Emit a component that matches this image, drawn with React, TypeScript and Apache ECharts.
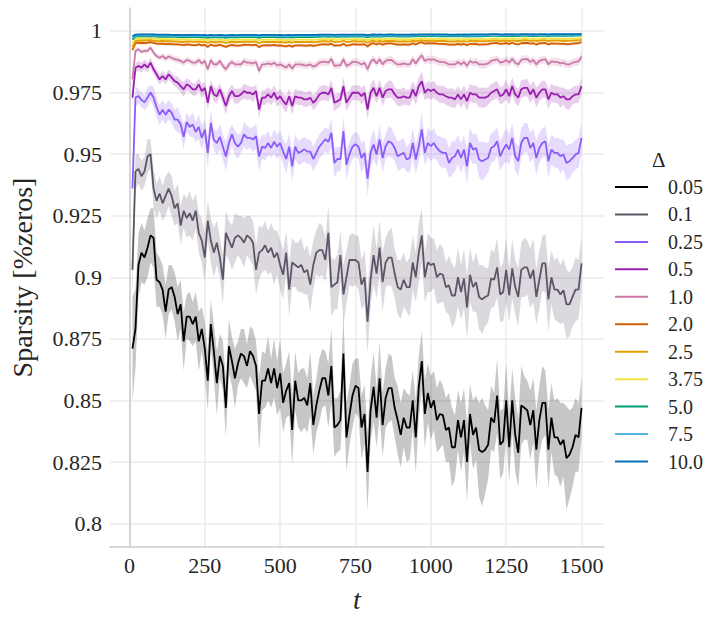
import React, { useEffect, useRef } from "react";
import * as echarts from "echarts";

// time steps t
const tValues = [
  10, 20, 30, 40, 50, 60, 70, 80, 90, 100, 110, 120, 130, 140, 150,
  160, 170, 180, 190, 200, 210, 220, 230, 240, 250, 260, 270, 280, 290, 300,
  310, 320, 330, 340, 350, 360, 370, 380, 390, 400, 410, 420, 430, 440, 450,
  460, 470, 480, 490, 500, 510, 520, 530, 540, 550, 560, 570, 580, 590, 600,
  610, 620, 630, 640, 650, 660, 670, 680, 690, 700, 710, 720, 730, 740, 750,
  760, 770, 780, 790, 800, 810, 820, 830, 840, 850, 860, 870, 880, 890, 900,
  910, 920, 930, 940, 950, 960, 970, 980, 990, 1000, 1010, 1020, 1030, 1040, 1050,
  1060, 1070, 1080, 1090, 1100, 1110, 1120, 1130, 1140, 1150, 1160, 1170, 1180, 1190, 1200,
  1210, 1220, 1230, 1240, 1250, 1260, 1270, 1280, 1290, 1300, 1310, 1320, 1330, 1340, 1350,
  1360, 1370, 1380, 1390, 1400, 1410, 1420, 1430, 1440, 1450, 1460, 1470, 1480, 1490, 1500,
];

const deltaLabels = ["0.05", "0.1", "0.25", "0.5", "1.0", "2.0", "2.5", "3.75", "5.0", "7.5", "10.0"];
const deltaColors = ["#000000", "#5e5468", "#8b5cf6", "#9a1fb0", "#cc79a7", "#d55e00", "#e69f00", "#f0e442", "#009e73", "#56b4e9", "#0072b2"];

const xTicks = [0, 250, 500, 750, 1000, 1250, 1500];
const xTickLabels = ["0", "250", "500", "750", "1000", "1250", "1500"];
const yTicks = [0.8, 0.825, 0.85, 0.875, 0.9, 0.925, 0.95, 0.975, 1.0];
const yTickLabels = ["0.8", "0.825", "0.85", "0.875", "0.9", "0.925", "0.95", "0.975", "1"];

// Δ = 0.05
const mean005 = [
  0.871, 0.879, 0.905, 0.910, 0.908, 0.912, 0.917, 0.916, 0.899, 0.898,
  0.895, 0.886, 0.895, 0.896, 0.892, 0.885, 0.889, 0.874, 0.884, 0.884,
  0.881, 0.884, 0.874, 0.879, 0.871, 0.858, 0.881, 0.870, 0.857, 0.868,
  0.864, 0.847, 0.872, 0.866, 0.859, 0.865, 0.869, 0.868, 0.864, 0.870,
  0.868, 0.864, 0.8445, 0.858, 0.858, 0.863, 0.857, 0.863, 0.855, 0.861,
  0.849, 0.854, 0.857, 0.838, 0.858, 0.850, 0.850, 0.851, 0.848, 0.857,
  0.840, 0.848, 0.854, 0.859, 0.859, 0.852, 0.864, 0.839, 0.840, 0.842,
  0.869, 0.835, 0.844, 0.852, 0.856, 0.855, 0.839, 0.8445, 0.821, 0.846,
  0.8555, 0.843, 0.859, 0.840, 0.851, 0.855, 0.855, 0.847, 0.842, 0.836,
  0.843, 0.839, 0.839, 0.850, 0.835, 0.8555, 0.866, 0.8445, 0.853, 0.847,
  0.850, 0.842, 0.8445, 0.844, 0.838, 0.839, 0.831, 0.831, 0.842, 0.835,
  0.842, 0.825, 0.8445, 0.836, 0.839, 0.830, 0.829, 0.830, 0.832, 0.843,
  0.841, 0.852, 0.832, 0.8335, 0.850, 0.831, 0.850, 0.836, 0.8287, 0.848,
  0.847, 0.846, 0.840, 0.846, 0.830, 0.842, 0.849, 0.849, 0.830, 0.843,
  0.835, 0.835, 0.832, 0.834, 0.8266, 0.828, 0.831, 0.836, 0.835, 0.847,
];
const hw005 = [
  0.021, 0.016, 0.013, 0.012, 0.011, 0.012, 0.011, 0.012, 0.011, 0.010,
  0.010, 0.011, 0.010, 0.009, 0.010, 0.011, 0.010, 0.012, 0.009, 0.010,
  0.009, 0.010, 0.012, 0.009, 0.011, 0.012, 0.010, 0.011, 0.013, 0.009,
  0.010, 0.012, 0.011, 0.010, 0.012, 0.009, 0.010, 0.011, 0.009, 0.010,
  0.011, 0.010, 0.015, 0.012, 0.011, 0.013, 0.010, 0.012, 0.011, 0.014,
  0.012, 0.011, 0.013, 0.014, 0.012, 0.011, 0.013, 0.012, 0.011, 0.013,
  0.012, 0.011, 0.013, 0.012, 0.011, 0.013, 0.015, 0.012, 0.011, 0.012,
  0.016, 0.014, 0.012, 0.013, 0.011, 0.012, 0.013, 0.012, 0.016, 0.013,
  0.014, 0.012, 0.015, 0.013, 0.012, 0.014, 0.013, 0.012, 0.014, 0.013,
  0.012, 0.014, 0.013, 0.012, 0.015, 0.013, 0.012, 0.014, 0.012, 0.013,
  0.012, 0.013, 0.014, 0.012, 0.013, 0.014, 0.016, 0.013, 0.012, 0.014,
  0.013, 0.016, 0.012, 0.014, 0.013, 0.019, 0.022, 0.018, 0.014, 0.013,
  0.012, 0.015, 0.014, 0.013, 0.015, 0.014, 0.013, 0.015, 0.014, 0.016,
  0.013, 0.012, 0.014, 0.013, 0.016, 0.014, 0.015, 0.013, 0.016, 0.014,
  0.015, 0.016, 0.017, 0.015, 0.021, 0.018, 0.016, 0.015, 0.014, 0.012,
];

// Δ = 0.1
const mean01 = [
  0.903, 0.943, 0.944, 0.941, 0.943, 0.949, 0.950, 0.936, 0.931, 0.934,
  0.930, 0.933, 0.936, 0.933, 0.928, 0.930, 0.921, 0.927, 0.924, 0.926,
  0.923, 0.927, 0.918, 0.915, 0.908, 0.923, 0.915, 0.910, 0.914, 0.908,
  0.899, 0.918, 0.915, 0.912, 0.916, 0.917, 0.916, 0.914, 0.917, 0.916,
  0.914, 0.903, 0.910, 0.911, 0.913, 0.910, 0.912, 0.908, 0.910, 0.905,
  0.901, 0.910, 0.895, 0.906, 0.905, 0.904, 0.905, 0.902, 0.903, 0.897,
  0.905, 0.910, 0.911, 0.911, 0.907, 0.918, 0.896, 0.897, 0.898, 0.909,
  0.893, 0.900, 0.907, 0.907, 0.907, 0.906, 0.897, 0.900, 0.882, 0.899,
  0.909, 0.9015, 0.912, 0.898, 0.906, 0.908, 0.908, 0.9015, 0.896, 0.895,
  0.899, 0.896, 0.896, 0.906, 0.900, 0.910, 0.917, 0.900, 0.906, 0.905,
  0.9056, 0.900, 0.9015, 0.901, 0.896, 0.8967, 0.8926, 0.8926, 0.900, 0.894,
  0.8995, 0.8878, 0.901, 0.896, 0.898, 0.892, 0.891, 0.892, 0.8926, 0.8995,
  0.899, 0.904, 0.893, 0.894, 0.903, 0.8926, 0.9036, 0.896, 0.892, 0.903,
  0.904, 0.904, 0.8995, 0.903, 0.892, 0.899, 0.9056, 0.9056, 0.891, 0.900,
  0.895, 0.895, 0.893, 0.8947, 0.889, 0.889, 0.892, 0.895, 0.895, 0.9056,
];
const hw01 = [
  0.012, 0.007, 0.006, 0.006, 0.006, 0.007, 0.006, 0.008, 0.007, 0.007,
  0.007, 0.008, 0.007, 0.008, 0.007, 0.008, 0.008, 0.007, 0.008, 0.009,
  0.008, 0.007, 0.008, 0.009, 0.010, 0.008, 0.009, 0.010, 0.009, 0.008,
  0.010, 0.009, 0.008, 0.009, 0.010, 0.008, 0.009, 0.010, 0.008, 0.009,
  0.009, 0.010, 0.011, 0.009, 0.010, 0.009, 0.010, 0.011, 0.009, 0.010,
  0.010, 0.009, 0.011, 0.010, 0.009, 0.010, 0.011, 0.009, 0.010, 0.011,
  0.010, 0.009, 0.011, 0.010, 0.009, 0.011, 0.012, 0.010, 0.011, 0.010,
  0.012, 0.011, 0.010, 0.011, 0.010, 0.011, 0.010, 0.011, 0.013, 0.011,
  0.012, 0.010, 0.011, 0.012, 0.010, 0.011, 0.012, 0.010, 0.011, 0.012,
  0.011, 0.010, 0.012, 0.011, 0.010, 0.012, 0.011, 0.010, 0.012, 0.011,
  0.010, 0.011, 0.012, 0.011, 0.010, 0.012, 0.013, 0.011, 0.012, 0.011,
  0.012, 0.013, 0.011, 0.010, 0.012, 0.013, 0.014, 0.012, 0.011, 0.012,
  0.011, 0.012, 0.011, 0.012, 0.013, 0.011, 0.012, 0.011, 0.012, 0.011,
  0.012, 0.011, 0.012, 0.013, 0.011, 0.012, 0.011, 0.012, 0.013, 0.011,
  0.012, 0.013, 0.012, 0.013, 0.014, 0.013, 0.012, 0.013, 0.012, 0.011,
];

// Δ = 0.25
const mean025 = [
  0.936, 0.973, 0.9735, 0.972, 0.971, 0.973, 0.975, 0.973, 0.969, 0.966,
  0.968, 0.966, 0.968, 0.9668, 0.964, 0.964, 0.962, 0.957, 0.963, 0.961,
  0.962, 0.959, 0.961, 0.9566, 0.960, 0.9505, 0.9627, 0.9559, 0.9545, 0.957,
  0.953, 0.949, 0.9545, 0.958, 0.9545, 0.953, 0.9545, 0.958, 0.9566, 0.9566,
  0.9559, 0.9573, 0.949, 0.953, 0.9525, 0.9545, 0.9525, 0.955, 0.953, 0.9545,
  0.951, 0.948, 0.953, 0.945, 0.953, 0.9505, 0.951, 0.952, 0.951, 0.951,
  0.948, 0.9505, 0.953, 0.9545, 0.956, 0.955, 0.9586, 0.9464, 0.948, 0.948,
  0.9593, 0.9457, 0.950, 0.953, 0.954, 0.953, 0.9484, 0.9505, 0.940, 0.9505,
  0.9539, 0.9498, 0.9559, 0.9484, 0.9532, 0.9552, 0.9545, 0.9525, 0.9491, 0.9498,
  0.9505, 0.9478, 0.9484, 0.9545, 0.9478, 0.9532, 0.960, 0.9505, 0.9545, 0.9532,
  0.9545, 0.9525, 0.9511, 0.9505, 0.9505, 0.9464, 0.9484, 0.9491, 0.9518, 0.9484,
  0.9518, 0.945, 0.9545, 0.9518, 0.9525, 0.9478, 0.9471, 0.9478, 0.9484, 0.9525,
  0.9532, 0.9552, 0.9491, 0.9518, 0.9539, 0.9518, 0.9566, 0.9491, 0.9471, 0.9545,
  0.9566, 0.9566, 0.9525, 0.9545, 0.9484, 0.9525, 0.9545, 0.9552, 0.9471, 0.9518,
  0.9505, 0.9505, 0.9491, 0.9498, 0.9464, 0.9471, 0.9484, 0.9498, 0.9505, 0.9566,
];
const hw025 = [
  0.006, 0.004, 0.003, 0.003, 0.003, 0.004, 0.003, 0.004, 0.004, 0.004,
  0.004, 0.004, 0.004, 0.004, 0.004, 0.005, 0.004, 0.005, 0.004, 0.004,
  0.005, 0.004, 0.005, 0.005, 0.004, 0.006, 0.005, 0.004, 0.005, 0.005,
  0.005, 0.006, 0.005, 0.004, 0.005, 0.005, 0.004, 0.005, 0.005, 0.004,
  0.005, 0.005, 0.006, 0.005, 0.005, 0.005, 0.004, 0.005, 0.005, 0.005,
  0.005, 0.006, 0.005, 0.006, 0.005, 0.005, 0.005, 0.005, 0.005, 0.005,
  0.005, 0.005, 0.005, 0.005, 0.005, 0.005, 0.006, 0.006, 0.005, 0.005,
  0.006, 0.006, 0.005, 0.005, 0.005, 0.005, 0.006, 0.005, 0.007, 0.006,
  0.006, 0.005, 0.006, 0.006, 0.005, 0.006, 0.006, 0.005, 0.006, 0.006,
  0.006, 0.005, 0.006, 0.006, 0.006, 0.006, 0.007, 0.005, 0.006, 0.006,
  0.006, 0.005, 0.006, 0.006, 0.006, 0.006, 0.007, 0.006, 0.006, 0.006,
  0.006, 0.007, 0.006, 0.006, 0.006, 0.007, 0.008, 0.007, 0.006, 0.006,
  0.006, 0.006, 0.006, 0.006, 0.007, 0.006, 0.006, 0.006, 0.006, 0.006,
  0.006, 0.006, 0.006, 0.006, 0.007, 0.006, 0.006, 0.006, 0.007, 0.006,
  0.006, 0.006, 0.007, 0.006, 0.007, 0.007, 0.006, 0.006, 0.006, 0.006,
];

// Δ = 0.5
const mean05 = [
  0.9729, 0.985, 0.9858, 0.9851, 0.9864, 0.9851, 0.9871, 0.9844, 0.9824, 0.9803,
  0.9817, 0.9803, 0.9824, 0.981, 0.9796, 0.979, 0.9776, 0.9763, 0.9783, 0.9776,
  0.9763, 0.9763, 0.9783, 0.9756, 0.9769, 0.9708, 0.9776, 0.9742, 0.9735, 0.9763,
  0.9729, 0.9695, 0.9735, 0.9756, 0.9735, 0.9735, 0.9742, 0.9756, 0.9749, 0.9749,
  0.9742, 0.9756, 0.9681, 0.9729, 0.9729, 0.9742, 0.9729, 0.9749, 0.9722, 0.9735,
  0.9715, 0.9701, 0.9735, 0.9695, 0.9735, 0.9729, 0.9729, 0.9722, 0.9722, 0.9729,
  0.9708, 0.9722, 0.9742, 0.9749, 0.9749, 0.9742, 0.9769, 0.9708, 0.9715, 0.9722,
  0.9776, 0.9708, 0.9729, 0.9749, 0.9749, 0.9749, 0.9735, 0.9749, 0.9681, 0.9749,
  0.9769, 0.9735, 0.9769, 0.9729, 0.9756, 0.9763, 0.9763, 0.9742, 0.9729, 0.9729,
  0.9735, 0.9729, 0.9729, 0.9763, 0.9735, 0.9776, 0.9796, 0.9749, 0.9763, 0.9756,
  0.9763, 0.9749, 0.9742, 0.9742, 0.9735, 0.9729, 0.9729, 0.9722, 0.9742, 0.9722,
  0.9742, 0.9715, 0.9749, 0.9742, 0.9742, 0.9729, 0.9729, 0.9729, 0.9735, 0.9749,
  0.9756, 0.9763, 0.9735, 0.9742, 0.9763, 0.9735, 0.9776, 0.9742, 0.9729, 0.9763,
  0.9769, 0.9769, 0.9742, 0.9763, 0.9729, 0.9749, 0.9763, 0.9763, 0.9722, 0.9749,
  0.9742, 0.9742, 0.9729, 0.9735, 0.9722, 0.9722, 0.9735, 0.9742, 0.9742, 0.9776,
];
const hw05 = [
  0.004, 0.002, 0.002, 0.002, 0.002, 0.002, 0.002, 0.002, 0.002, 0.002,
  0.002, 0.002, 0.002, 0.002, 0.002, 0.0025, 0.0025, 0.003, 0.0025, 0.0025,
  0.0025, 0.0025, 0.0025, 0.003, 0.0025, 0.003, 0.0025, 0.003, 0.003, 0.0025,
  0.003, 0.0035, 0.003, 0.0025, 0.003, 0.003, 0.0025, 0.003, 0.003, 0.0025,
  0.003, 0.0025, 0.0035, 0.003, 0.003, 0.003, 0.003, 0.003, 0.003, 0.003,
  0.003, 0.0035, 0.003, 0.0035, 0.003, 0.003, 0.003, 0.003, 0.003, 0.003,
  0.003, 0.003, 0.003, 0.003, 0.003, 0.003, 0.0035, 0.0035, 0.003, 0.003,
  0.0035, 0.0035, 0.003, 0.003, 0.003, 0.003, 0.0035, 0.003, 0.004, 0.0035,
  0.0035, 0.003, 0.0035, 0.0035, 0.003, 0.0035, 0.0035, 0.003, 0.0035, 0.0035,
  0.0035, 0.003, 0.0035, 0.0035, 0.0035, 0.0035, 0.004, 0.003, 0.0035, 0.0035,
  0.0035, 0.003, 0.0035, 0.0035, 0.0035, 0.0035, 0.004, 0.0035, 0.0035, 0.0035,
  0.0035, 0.004, 0.0035, 0.0035, 0.0035, 0.004, 0.004, 0.004, 0.0035, 0.0035,
  0.0035, 0.0035, 0.0035, 0.0035, 0.004, 0.0035, 0.0035, 0.0035, 0.0035, 0.0035,
  0.0035, 0.0035, 0.0035, 0.0035, 0.004, 0.0035, 0.0035, 0.0035, 0.004, 0.0035,
  0.0035, 0.0035, 0.004, 0.0035, 0.004, 0.004, 0.0035, 0.0035, 0.0035, 0.0035,
];

// Δ = 1.0
const mean10 = [
  0.9803, 0.9919, 0.9925, 0.9915, 0.9919, 0.9919, 0.9932, 0.9912, 0.9898, 0.9891,
  0.9898, 0.9887, 0.9896, 0.9891, 0.9885, 0.9882, 0.9878, 0.9871, 0.9882, 0.9878,
  0.9871, 0.9871, 0.9882, 0.9868, 0.9878, 0.9844, 0.9882, 0.9864, 0.9864, 0.9878,
  0.9858, 0.9844, 0.9864, 0.9874, 0.9864, 0.9864, 0.9864, 0.9878, 0.9871, 0.9871,
  0.9868, 0.9874, 0.9837, 0.9864, 0.9864, 0.9868, 0.9864, 0.9871, 0.986, 0.9864,
  0.9858, 0.9851, 0.9864, 0.9847, 0.9864, 0.9864, 0.9864, 0.986, 0.986, 0.9864,
  0.9855, 0.986, 0.9871, 0.9874, 0.9874, 0.9871, 0.9887, 0.9858, 0.986, 0.986,
  0.9885, 0.9858, 0.9864, 0.9874, 0.9874, 0.9871, 0.9864, 0.9871, 0.9844, 0.9874,
  0.9885, 0.9868, 0.9885, 0.9864, 0.9878, 0.9882, 0.9882, 0.9871, 0.9864, 0.9864,
  0.9868, 0.9864, 0.9864, 0.9885, 0.9868, 0.9887, 0.9901, 0.9878, 0.9885, 0.9882,
  0.9885, 0.9878, 0.9874, 0.9874, 0.9871, 0.9864, 0.9864, 0.9864, 0.9874, 0.9864,
  0.9874, 0.9858, 0.9878, 0.9871, 0.9874, 0.9864, 0.9864, 0.9864, 0.9868, 0.9878,
  0.9881, 0.9885, 0.9871, 0.9874, 0.9882, 0.9871, 0.9887, 0.9871, 0.9864, 0.9882,
  0.9885, 0.9885, 0.9874, 0.9882, 0.9864, 0.9878, 0.9882, 0.9885, 0.9864, 0.9876,
  0.9874, 0.9874, 0.9868, 0.9871, 0.9864, 0.9864, 0.9871, 0.9874, 0.9876, 0.9896,
];
const hw10 = [
  0.003, 0.0012, 0.001, 0.001, 0.001, 0.001, 0.001, 0.0011, 0.0011, 0.0012,
  0.0012, 0.0012, 0.0012, 0.0013, 0.0012, 0.0013, 0.0013, 0.0014, 0.0013, 0.0013,
  0.0013, 0.0014, 0.0013, 0.0014, 0.0013, 0.0016, 0.0014, 0.0014, 0.0015, 0.0014,
  0.0015, 0.0016, 0.0015, 0.0014, 0.0015, 0.0015, 0.0014, 0.0015, 0.0015, 0.0014,
  0.0015, 0.0014, 0.0017, 0.0015, 0.0015, 0.0015, 0.0015, 0.0015, 0.0015, 0.0015,
  0.0015, 0.0016, 0.0015, 0.0017, 0.0015, 0.0015, 0.0015, 0.0015, 0.0015, 0.0015,
  0.0016, 0.0015, 0.0015, 0.0015, 0.0015, 0.0015, 0.0016, 0.0016, 0.0015, 0.0015,
  0.0016, 0.0016, 0.0015, 0.0015, 0.0015, 0.0015, 0.0016, 0.0015, 0.0018, 0.0016,
  0.0016, 0.0015, 0.0016, 0.0016, 0.0015, 0.0016, 0.0016, 0.0015, 0.0016, 0.0016,
  0.0016, 0.0015, 0.0016, 0.0016, 0.0016, 0.0016, 0.0017, 0.0015, 0.0016, 0.0016,
  0.0016, 0.0015, 0.0016, 0.0016, 0.0016, 0.0016, 0.0017, 0.0016, 0.0016, 0.0016,
  0.0016, 0.0017, 0.0016, 0.0016, 0.0016, 0.0017, 0.0018, 0.0017, 0.0016, 0.0016,
  0.0016, 0.0016, 0.0016, 0.0016, 0.0017, 0.0016, 0.0016, 0.0016, 0.0016, 0.0016,
  0.0016, 0.0016, 0.0016, 0.0016, 0.0017, 0.0016, 0.0016, 0.0016, 0.0017, 0.0016,
  0.0016, 0.0016, 0.0017, 0.0016, 0.0017, 0.0017, 0.0016, 0.0016, 0.0016, 0.0016,
];

// Δ = 2.0
const mean20 = [
  0.9922, 0.9950, 0.9952, 0.9951, 0.9951, 0.9952, 0.9954, 0.9951, 0.9948, 0.9947,
  0.9948, 0.9946, 0.9947, 0.9946, 0.9945, 0.9945, 0.9944, 0.9942, 0.9945, 0.9944,
  0.9942, 0.9942, 0.9945, 0.9941, 0.9944, 0.9935, 0.9945, 0.9940, 0.9940, 0.9944,
  0.9939, 0.9935, 0.9940, 0.9943, 0.9940, 0.9940, 0.9941, 0.9944, 0.9943, 0.9943,
  0.9942, 0.9944, 0.9934, 0.9941, 0.9941, 0.9942, 0.9941, 0.9943, 0.9940, 0.9941,
  0.9939, 0.9937, 0.9941, 0.9936, 0.9941, 0.9941, 0.9941, 0.9940, 0.9940, 0.9942,
  0.9939, 0.9941, 0.9944, 0.9945, 0.9945, 0.9944, 0.9948, 0.9940, 0.9941, 0.9941,
  0.9948, 0.9940, 0.9942, 0.9945, 0.9945, 0.9944, 0.9944, 0.9946, 0.9937, 0.9947,
  0.9950, 0.9945, 0.9950, 0.9944, 0.9948, 0.9949, 0.9949, 0.9946, 0.9944, 0.9944,
  0.9945, 0.9944, 0.9944, 0.9950, 0.9945, 0.9951, 0.9954, 0.9948, 0.9950, 0.9949,
  0.9950, 0.9948, 0.9947, 0.9947, 0.9946, 0.9944, 0.9944, 0.9944, 0.9947, 0.9944,
  0.9947, 0.9942, 0.9948, 0.9946, 0.9947, 0.9944, 0.9945, 0.9945, 0.9946, 0.9949,
  0.9950, 0.9951, 0.9947, 0.9948, 0.9950, 0.9947, 0.9952, 0.9947, 0.9945, 0.9950,
  0.9951, 0.9951, 0.9948, 0.9950, 0.9945, 0.9949, 0.9950, 0.9951, 0.9945, 0.9949,
  0.9948, 0.9948, 0.9947, 0.9948, 0.9946, 0.9946, 0.9948, 0.9949, 0.9950, 0.9955,
];

// Δ = 2.5
const mean25 = [
  0.9935, 0.9960, 0.9962, 0.9961, 0.9962, 0.9962, 0.9964, 0.9961, 0.9959, 0.9958,
  0.9959, 0.9958, 0.9958, 0.9958, 0.9957, 0.9957, 0.9956, 0.9955, 0.9957, 0.9957,
  0.9956, 0.9956, 0.9957, 0.9955, 0.9957, 0.9951, 0.9957, 0.9954, 0.9954, 0.9957,
  0.9954, 0.9951, 0.9954, 0.9956, 0.9954, 0.9955, 0.9955, 0.9957, 0.9956, 0.9956,
  0.9956, 0.9957, 0.9950, 0.9955, 0.9955, 0.9956, 0.9955, 0.9956, 0.9954, 0.9955,
  0.9954, 0.9953, 0.9955, 0.9952, 0.9955, 0.9955, 0.9955, 0.9955, 0.9955, 0.9956,
  0.9954, 0.9955, 0.9957, 0.9958, 0.9958, 0.9957, 0.9960, 0.9955, 0.9956, 0.9956,
  0.9960, 0.9955, 0.9956, 0.9958, 0.9958, 0.9957, 0.9957, 0.9958, 0.9952, 0.9958,
  0.9960, 0.9957, 0.9960, 0.9957, 0.9959, 0.9959, 0.9959, 0.9958, 0.9957, 0.9957,
  0.9958, 0.9957, 0.9957, 0.9960, 0.9958, 0.9961, 0.9963, 0.9959, 0.9960, 0.9960,
  0.9960, 0.9959, 0.9959, 0.9959, 0.9958, 0.9957, 0.9957, 0.9957, 0.9959, 0.9957,
  0.9959, 0.9956, 0.9960, 0.9958, 0.9959, 0.9958, 0.9958, 0.9958, 0.9959, 0.9961,
  0.9961, 0.9962, 0.9959, 0.9960, 0.9961, 0.9959, 0.9962, 0.9960, 0.9959, 0.9961,
  0.9962, 0.9962, 0.9960, 0.9962, 0.9959, 0.9961, 0.9962, 0.9962, 0.9959, 0.9961,
  0.9961, 0.9961, 0.9960, 0.9961, 0.9960, 0.9960, 0.9961, 0.9962, 0.9962, 0.9965,
];

// Δ = 3.75
const mean375 = [
  0.9950, 0.9968, 0.9970, 0.9969, 0.9970, 0.9970, 0.9971, 0.9969, 0.9968, 0.9967,
  0.9968, 0.9967, 0.9967, 0.9967, 0.9966, 0.9966, 0.9966, 0.9965, 0.9966, 0.9966,
  0.9965, 0.9965, 0.9966, 0.9965, 0.9966, 0.9962, 0.9966, 0.9964, 0.9964, 0.9966,
  0.9964, 0.9962, 0.9964, 0.9965, 0.9964, 0.9965, 0.9965, 0.9966, 0.9965, 0.9965,
  0.9965, 0.9966, 0.9961, 0.9965, 0.9965, 0.9965, 0.9965, 0.9965, 0.9964, 0.9965,
  0.9964, 0.9963, 0.9965, 0.9963, 0.9965, 0.9965, 0.9965, 0.9965, 0.9965, 0.9965,
  0.9964, 0.9965, 0.9966, 0.9967, 0.9967, 0.9966, 0.9968, 0.9965, 0.9965, 0.9965,
  0.9968, 0.9965, 0.9966, 0.9967, 0.9967, 0.9966, 0.9966, 0.9967, 0.9963, 0.9967,
  0.9968, 0.9966, 0.9968, 0.9966, 0.9967, 0.9968, 0.9968, 0.9967, 0.9966, 0.9966,
  0.9967, 0.9966, 0.9966, 0.9968, 0.9967, 0.9969, 0.9970, 0.9968, 0.9968, 0.9968,
  0.9968, 0.9968, 0.9967, 0.9967, 0.9967, 0.9966, 0.9966, 0.9966, 0.9967, 0.9966,
  0.9967, 0.9965, 0.9968, 0.9967, 0.9967, 0.9967, 0.9967, 0.9967, 0.9968, 0.9969,
  0.9969, 0.9970, 0.9968, 0.9968, 0.9969, 0.9968, 0.9970, 0.9968, 0.9968, 0.9969,
  0.9970, 0.9970, 0.9968, 0.9969, 0.9968, 0.9969, 0.9970, 0.9970, 0.9968, 0.9969,
  0.9969, 0.9969, 0.9968, 0.9969, 0.9968, 0.9968, 0.9969, 0.9969, 0.9970, 0.9972,
];

// Δ = 5.0
const mean50 = [
  0.9965, 0.9977, 0.9978, 0.9978, 0.9978, 0.9978, 0.9979, 0.9978, 0.9977, 0.9976,
  0.9977, 0.9976, 0.9976, 0.9976, 0.9976, 0.9975, 0.9975, 0.9974, 0.9975, 0.9975,
  0.9975, 0.9975, 0.9975, 0.9974, 0.9975, 0.9972, 0.9975, 0.9974, 0.9974, 0.9975,
  0.9974, 0.9972, 0.9974, 0.9975, 0.9974, 0.9974, 0.9975, 0.9975, 0.9975, 0.9975,
  0.9975, 0.9975, 0.9972, 0.9975, 0.9975, 0.9975, 0.9975, 0.9975, 0.9974, 0.9975,
  0.9974, 0.9974, 0.9975, 0.9973, 0.9975, 0.9975, 0.9975, 0.9975, 0.9975, 0.9976,
  0.9975, 0.9976, 0.9976, 0.9977, 0.9977, 0.9976, 0.9978, 0.9976, 0.9976, 0.9976,
  0.9978, 0.9976, 0.9977, 0.9977, 0.9977, 0.9977, 0.9977, 0.9977, 0.9974, 0.9977,
  0.9978, 0.9977, 0.9978, 0.9977, 0.9978, 0.9978, 0.9978, 0.9978, 0.9977, 0.9977,
  0.9978, 0.9977, 0.9977, 0.9979, 0.9978, 0.9979, 0.9980, 0.9978, 0.9979, 0.9979,
  0.9979, 0.9979, 0.9978, 0.9978, 0.9978, 0.9978, 0.9978, 0.9978, 0.9978, 0.9978,
  0.9978, 0.9977, 0.9979, 0.9978, 0.9979, 0.9978, 0.9978, 0.9979, 0.9979, 0.9980,
  0.9980, 0.9980, 0.9979, 0.9979, 0.9980, 0.9979, 0.9980, 0.9979, 0.9979, 0.9980,
  0.9980, 0.9980, 0.9979, 0.9980, 0.9979, 0.9980, 0.9980, 0.9981, 0.9979, 0.9980,
  0.9980, 0.9980, 0.9980, 0.9980, 0.9980, 0.9980, 0.9980, 0.9981, 0.9981, 0.9982,
];

// Δ = 7.5
const mean75 = [
  0.9972, 0.9981, 0.9982, 0.9982, 0.9982, 0.9982, 0.9983, 0.9982, 0.9981, 0.9981,
  0.9981, 0.9981, 0.9981, 0.9980, 0.9980, 0.9980, 0.9980, 0.9979, 0.9980, 0.9980,
  0.9980, 0.9980, 0.9980, 0.9979, 0.9980, 0.9978, 0.9980, 0.9979, 0.9979, 0.9980,
  0.9979, 0.9978, 0.9979, 0.9980, 0.9979, 0.9979, 0.9980, 0.9980, 0.9980, 0.9980,
  0.9980, 0.9980, 0.9978, 0.9980, 0.9980, 0.9980, 0.9980, 0.9980, 0.9979, 0.9980,
  0.9979, 0.9979, 0.9980, 0.9979, 0.9980, 0.9980, 0.9980, 0.9980, 0.9980, 0.9980,
  0.9980, 0.9980, 0.9981, 0.9981, 0.9981, 0.9981, 0.9982, 0.9980, 0.9981, 0.9981,
  0.9982, 0.9981, 0.9981, 0.9981, 0.9981, 0.9981, 0.9981, 0.9981, 0.9979, 0.9981,
  0.9982, 0.9981, 0.9982, 0.9981, 0.9982, 0.9982, 0.9982, 0.9982, 0.9981, 0.9981,
  0.9982, 0.9981, 0.9981, 0.9982, 0.9982, 0.9983, 0.9983, 0.9982, 0.9983, 0.9983,
  0.9983, 0.9982, 0.9982, 0.9982, 0.9982, 0.9982, 0.9982, 0.9982, 0.9982, 0.9982,
  0.9982, 0.9981, 0.9983, 0.9982, 0.9983, 0.9982, 0.9982, 0.9983, 0.9983, 0.9983,
  0.9983, 0.9984, 0.9983, 0.9983, 0.9983, 0.9983, 0.9984, 0.9983, 0.9983, 0.9984,
  0.9984, 0.9984, 0.9983, 0.9984, 0.9983, 0.9984, 0.9984, 0.9984, 0.9983, 0.9984,
  0.9984, 0.9984, 0.9984, 0.9984, 0.9984, 0.9984, 0.9984, 0.9984, 0.9985, 0.9985,
];

// Δ = 10.0
const mean100 = [
  0.9978, 0.9985, 0.9986, 0.9986, 0.9986, 0.9986, 0.9986, 0.9986, 0.9985, 0.9985,
  0.9985, 0.9985, 0.9985, 0.9984, 0.9984, 0.9984, 0.9984, 0.9983, 0.9984, 0.9984,
  0.9984, 0.9984, 0.9984, 0.9983, 0.9984, 0.9982, 0.9984, 0.9983, 0.9983, 0.9984,
  0.9983, 0.9982, 0.9983, 0.9984, 0.9983, 0.9983, 0.9984, 0.9984, 0.9984, 0.9984,
  0.9984, 0.9984, 0.9982, 0.9984, 0.9984, 0.9984, 0.9984, 0.9984, 0.9983, 0.9984,
  0.9983, 0.9983, 0.9984, 0.9983, 0.9984, 0.9984, 0.9984, 0.9984, 0.9984, 0.9984,
  0.9984, 0.9984, 0.9985, 0.9985, 0.9985, 0.9985, 0.9985, 0.9984, 0.9985, 0.9985,
  0.9985, 0.9985, 0.9985, 0.9985, 0.9985, 0.9985, 0.9985, 0.9985, 0.9983, 0.9985,
  0.9986, 0.9985, 0.9986, 0.9985, 0.9985, 0.9986, 0.9986, 0.9985, 0.9985, 0.9985,
  0.9985, 0.9985, 0.9985, 0.9986, 0.9985, 0.9986, 0.9986, 0.9986, 0.9986, 0.9986,
  0.9986, 0.9986, 0.9986, 0.9986, 0.9986, 0.9985, 0.9985, 0.9985, 0.9986, 0.9985,
  0.9986, 0.9985, 0.9986, 0.9986, 0.9986, 0.9986, 0.9986, 0.9986, 0.9986, 0.9987,
  0.9987, 0.9987, 0.9986, 0.9986, 0.9987, 0.9986, 0.9987, 0.9986, 0.9986, 0.9987,
  0.9987, 0.9987, 0.9986, 0.9987, 0.9986, 0.9987, 0.9987, 0.9987, 0.9986, 0.9987,
  0.9987, 0.9987, 0.9987, 0.9987, 0.9987, 0.9987, 0.9987, 0.9987, 0.9987, 0.9988,
];

// band half-widths for the near-flat series (2.0, 2.5, 3.75, 5.0, 7.5, 10.0)
const flatBandHalfWidth = [0.0006, 0.0004, 0.0003, 0.0002, 0.0002, 0.0002];

const FONT = "Liberation Serif";
const TEXT = "#262626";

export default function App() {
  const ref = useRef<HTMLDivElement>(null);

  useEffect(() => {
    if (!ref.current) return;
    const chart = echarts.init(ref.current, undefined, { renderer: "svg" });

    const means = [mean005, mean01, mean025, mean05, mean10, mean20, mean25, mean375, mean50, mean75, mean100];
    const hws: (number[] | number)[] = [hw005, hw01, hw025, hw05, hw10, ...flatBandHalfWidth];

    const series: any[] = [];
    means.forEach((m, k) => {
      const color = deltaColors[k];
      const hw = hws[k];
      const band = tValues.map((t, i) => {
        const h = Array.isArray(hw) ? hw[i] : hw;
        return [t, m[i] - h, m[i] + h];
      });
      series.push({
        type: "custom",
        name: "band" + k,
        silent: true,
        clip: true,
        data: band,
        encode: { x: 0, y: [1, 2] },
        renderItem: (params: any, api: any) => {
          if (params.dataIndex !== 0) return null;
          const upper = band.map((d) => api.coord([d[0], d[2]]));
          const lower = band.map((d) => api.coord([d[0], d[1]])).reverse();
          return {
            type: "polygon",
            shape: { points: upper.concat(lower) },
            style: { fill: color, opacity: 0.22 },
          };
        },
      });
      series.push({
        type: "line",
        name: deltaLabels[k],
        data: tValues.map((t, i) => [t, m[i]]),
        showSymbol: false,
        symbol: "none",
        clip: true,
        lineStyle: { color, width: 1.8 },
        itemStyle: { color },
      });
    });

    const labelFor = (ticks: number[], labels: string[]) => (v: number) => {
      const idx = ticks.findIndex((x) => Math.abs(x - v) < 1e-6);
      return idx >= 0 ? labels[idx] : "";
    };

    chart.setOption({
      animation: false,
      backgroundColor: "#ffffff",
      textStyle: { fontFamily: FONT },
      grid: { left: 109, right: 121, top: 8, bottom: 76, containLabel: false },
      xAxis: {
        type: "value",
        min: -64.5,
        max: 1574.5,
        axisLine: { show: true, lineStyle: { color: "#cccccc", width: 1.5 } },
        axisTick: { show: false, customValues: xTicks },
        axisLabel: {
          customValues: xTicks,
          formatter: labelFor(xTicks, xTickLabels),
          fontFamily: FONT,
          fontSize: 22,
          color: TEXT,
          margin: 7,
        },
        splitLine: { show: true, lineStyle: { color: "#ebebeb", width: 1.5 } },
        name: "t",
        nameLocation: "middle",
        nameGap: 38,
        nameTextStyle: { fontFamily: FONT, fontStyle: "italic", fontSize: 28, color: TEXT },
      },
      yAxis: {
        type: "value",
        min: 0.7905,
        max: 1.0093,
        axisLine: { show: true, lineStyle: { color: "#cccccc", width: 1.5 } },
        axisTick: { show: false, customValues: yTicks },
        axisLabel: {
          customValues: yTicks,
          formatter: labelFor(yTicks, yTickLabels),
          fontFamily: FONT,
          fontSize: 22,
          color: TEXT,
          margin: 8,
        },
        splitLine: { show: true, lineStyle: { color: "#ebebeb", width: 1.5 } },
        name: "Sparsity [%zeros]",
        nameLocation: "middle",
        nameGap: 74,
        nameTextStyle: { fontFamily: FONT, fontSize: 28, color: TEXT },
      },
      legend: {
        data: deltaLabels,
        orient: "vertical",
        left: 615,
        top: 175,
        padding: 0,
        itemWidth: 33,
        itemHeight: 2,
        itemGap: 3.45,
        icon: "rect",
        selectedMode: false,
        itemStyle: { borderWidth: 0 },
        textStyle: { fontFamily: FONT, fontSize: 20, color: TEXT, lineHeight: 24, padding: [0, 0, 0, 15] },
      },
      graphic: [
        {
          type: "text",
          left: 652,
          top: 149,
          style: { text: "Δ", fontFamily: FONT, fontSize: 21, fill: TEXT },
        },
      ],
      series,
    });

    return () => chart.dispose();
  }, []);

  return <div ref={ref} style={{ position: "absolute", left: 0, top: 0, width: 725, height: 623 }} />;
}
